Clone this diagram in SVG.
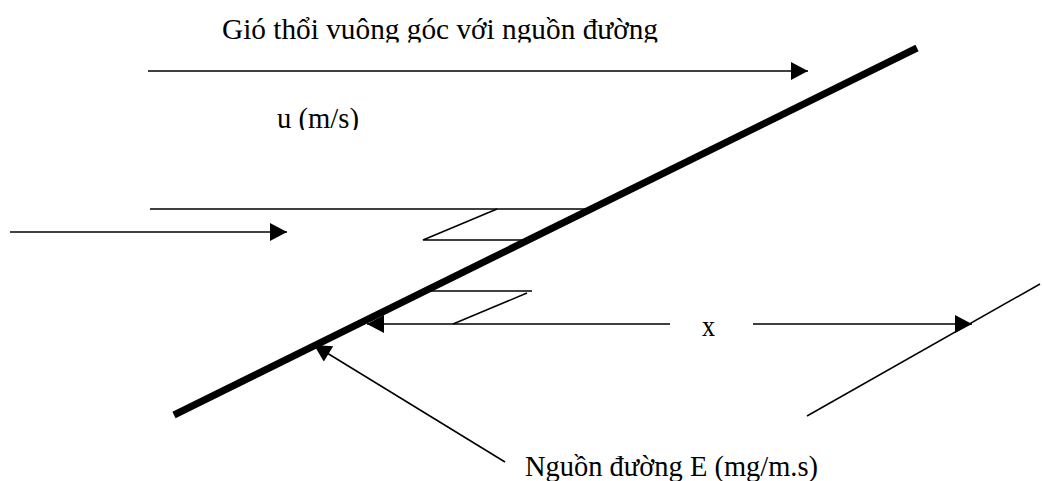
<svg xmlns="http://www.w3.org/2000/svg" width="1042" height="481" viewBox="0 0 1042 481">
  <style>
    .thin { stroke: #000; stroke-width: 1.5; fill: none; }
    .thick { stroke: #000; stroke-width: 7; fill: none; }
    .lbl { font-family: "Liberation Serif", "Times New Roman", serif; font-size: 29px; fill: #000; }
  </style>
  <defs>
    <marker id="ah" markerUnits="userSpaceOnUse" markerWidth="18" markerHeight="18" viewBox="0 0 17 18" refX="17" refY="9" orient="auto">
      <path d="M0,0 L17,9 L0,18 z" fill="#000"/>
    </marker>
    <clipPath id="clipTop"><rect x="0" y="0" width="1042" height="42.5"/></clipPath>
    <clipPath id="clipU"><rect x="0" y="100" width="1042" height="30"/></clipPath>
  </defs>
  <rect width="1042" height="481" fill="#fff"/>

  <g id="source-line">
    <line class="thick" x1="174" y1="415" x2="917" y2="48"/>
  </g>

  <g id="wind-labels">
    <text class="lbl" x="222" y="39" textLength="436" lengthAdjust="spacingAndGlyphs" clip-path="url(#clipTop)">Gió thổi vuông góc với nguồn đường</text>
    <text class="lbl" x="277" y="128" textLength="82" lengthAdjust="spacingAndGlyphs" clip-path="url(#clipU)">u (m/s)</text>
  </g>

  <g id="x-label">
    <text class="lbl" x="702" y="336" textLength="13" lengthAdjust="spacingAndGlyphs">x</text>
  </g>

  <g id="source-label">
    <text class="lbl" x="525" y="476" textLength="293" lengthAdjust="spacingAndGlyphs">Nguồn đường E (mg/m.s)</text>
  </g>

  <g id="receptor-line">
    <line class="thin" x1="807" y1="416" x2="1040" y2="284"/>
  </g>

  <g id="connectors">
    <line class="thin" x1="148" y1="71" x2="808" y2="71" marker-end="url(#ah)"/>
    <line class="thin" x1="10" y1="232" x2="287" y2="232" marker-end="url(#ah)"/>
    <line class="thin" x1="150" y1="209" x2="589" y2="209"/>
    <polyline class="thin" points="497,209 423,240 526,240"/>
    <line class="thin" x1="430" y1="291" x2="532" y2="291"/>
    <line class="thin" x1="527" y1="293" x2="453" y2="324"/>
    <line class="thin" x1="670" y1="324" x2="367" y2="324" marker-end="url(#ah)"/>
    <line class="thin" x1="753" y1="324" x2="972" y2="324" marker-end="url(#ah)"/>
    <line class="thin" x1="505" y1="462" x2="314" y2="345" marker-end="url(#ah)"/>
  </g>
</svg>
